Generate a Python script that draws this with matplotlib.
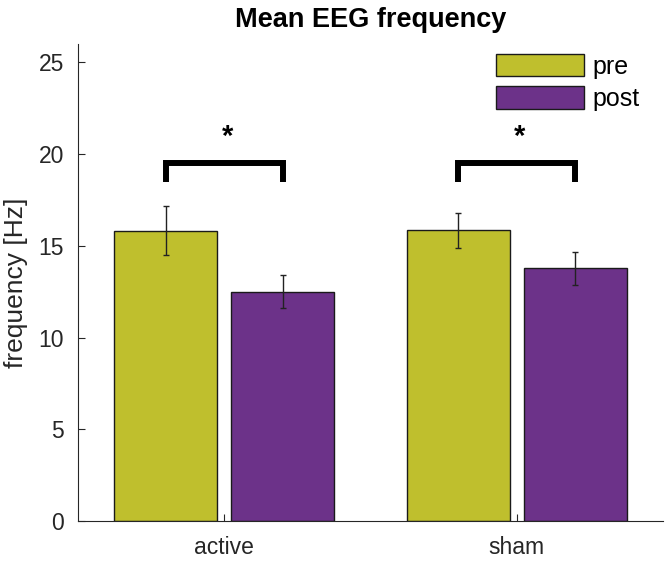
import matplotlib
matplotlib.use("Agg")
import matplotlib.pyplot as plt
import numpy as np

plt.rcParams['font.family'] = ['Liberation Sans', 'DejaVu Sans']

categories = ["active", "sham"]
series_names = ["pre", "post"]
pre_vals = [15.83, 15.84]
post_vals = [12.5, 13.77]
pre_err = [1.34, 0.97]
post_err = [0.91, 0.9]
sig_labels = ["*", "*"]
yticks = [0, 5, 10, 15, 20, 25]

colors = ["#BFBF2D", "#6C3289"]

fig = plt.figure(figsize=(6.69, 5.62), dpi=100)
ax = fig.add_axes([78 / 669, 41 / 562, 585 / 669, 477 / 562])

x = np.arange(1, len(categories) + 1)
w = 0.351
off = 0.2
ax.bar(x - off, pre_vals, w, color=colors[0], edgecolor="#1a1a1a", linewidth=1.0, label=series_names[0], zorder=2)
ax.bar(x + off, post_vals, w, color=colors[1], edgecolor="#1a1a1a", linewidth=1.0, label=series_names[1], zorder=2)
ax.errorbar(x - off, pre_vals, yerr=pre_err, fmt="none", ecolor="#222222", elinewidth=1.0, capsize=2.5, capthick=1.0, zorder=3)
ax.errorbar(x + off, post_vals, yerr=post_err, fmt="none", ecolor="#222222", elinewidth=1.0, capsize=2.5, capthick=1.0, zorder=3)

# significance brackets
for xi, lab in zip(x, sig_labels):
    ax.plot([xi - off, xi - off, xi + off, xi + off], [18.48, 19.5, 19.5, 18.48],
            color="black", linewidth=4.3, solid_joinstyle="miter", solid_capstyle="butt", zorder=3)
    ax.text(xi + 0.01, 20.15, lab, ha="center", va="bottom", fontsize=21, fontweight="bold")

ax.set_xlim(0.5, 2.5)
ax.set_ylim(0, 26)
ax.set_xticks(x)
ax.set_xticklabels(categories, fontsize=16.5)
ax.set_yticks(yticks)
ax.set_yticklabels([str(t) for t in yticks], fontsize=16.5)
ax.tick_params(direction="in", length=5, width=0.8, colors="#262626")
ax.tick_params(axis="x", pad=11)
ax.tick_params(axis="y", pad=10)
ax.set_ylabel("frequency [Hz]", fontsize=19, color="#262626", labelpad=8)
ax.set_title("Mean EEG frequency", fontsize=19.5, fontweight="bold", pad=12)
for s in ["top", "right"]:
    ax.spines[s].set_visible(False)
for s in ["left", "bottom"]:
    ax.spines[s].set_linewidth(0.8)
    ax.spines[s].set_color("#262626")

leg = ax.legend(loc="upper left", frameon=False, fontsize=18, handlelength=3.5,
                handleheight=1.0, handletextpad=0.36, labelspacing=0.3,
                borderpad=0, borderaxespad=0,
                bbox_to_anchor=(496 / 669, 1 - 54 / 562), bbox_transform=fig.transFigure)

fig.savefig("out.png", dpi=100)
